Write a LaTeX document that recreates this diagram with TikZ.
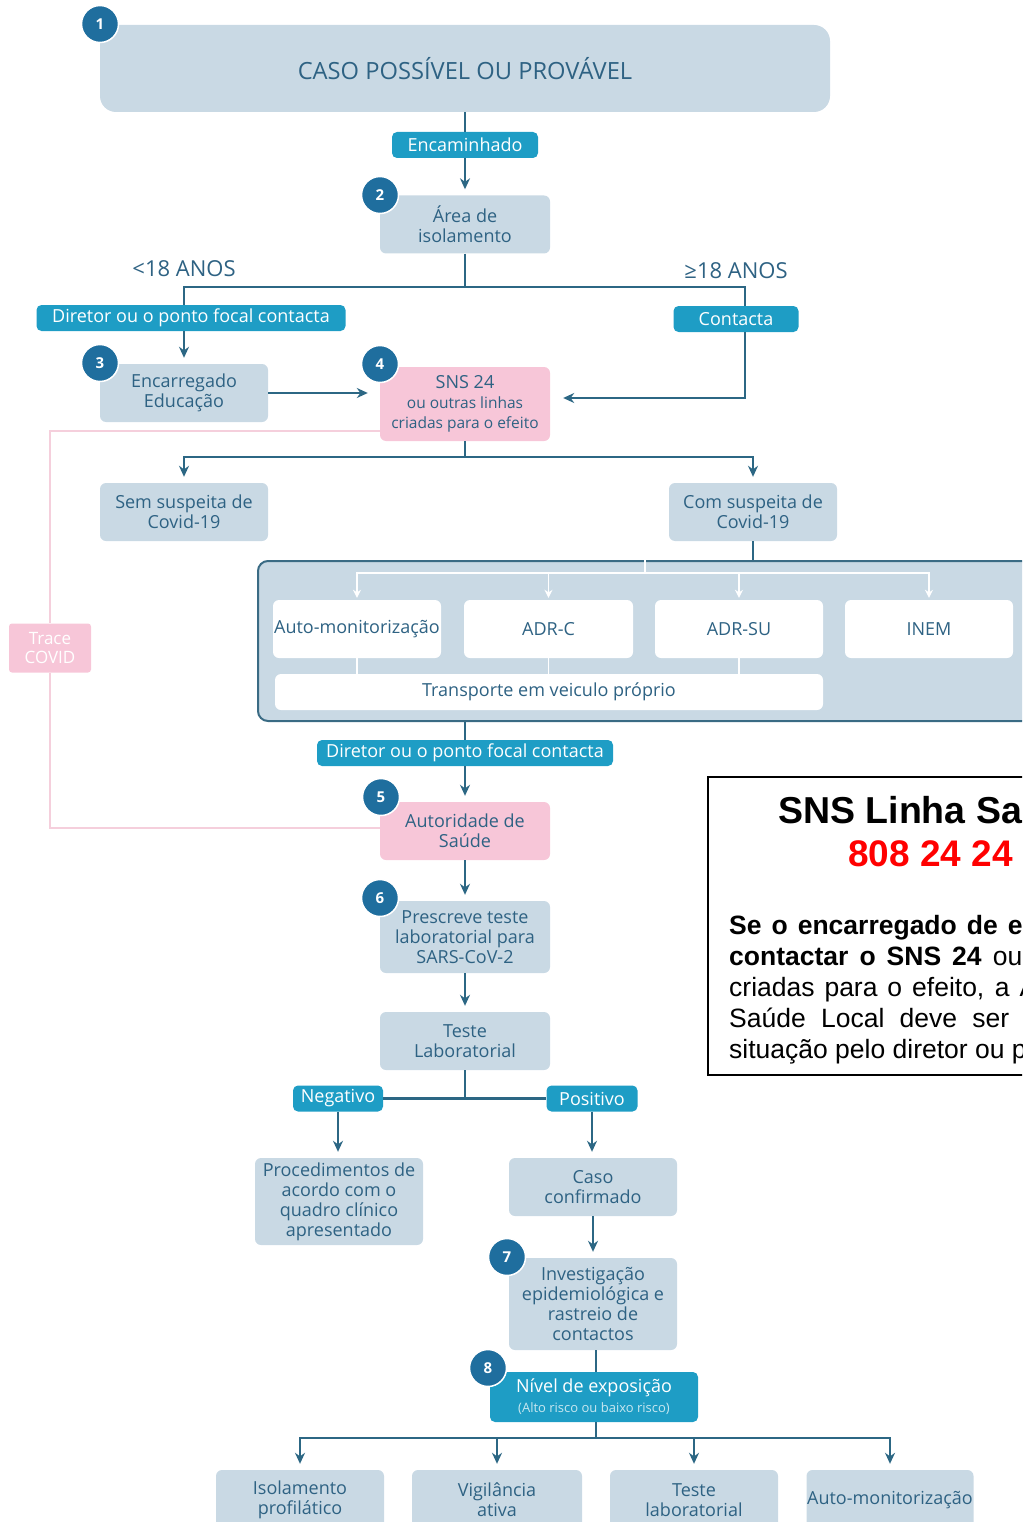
\documentclass[tikz,border=0pt]{standalone}
\usepackage{fontspec}
\setmainfont{Open Sans}
\newfontfamily\arialfont{Liberation Sans}
\usetikzlibrary{arrows.meta}
\definecolor{cxazul}{HTML}{C9D9E4}
\definecolor{cxrosa}{HTML}{F7C6D8}
\definecolor{txtazul}{HTML}{2E6283}
\definecolor{tagazul}{HTML}{1E9DC5}
\definecolor{numazul}{HTML}{1F6E9E}
\definecolor{linazul}{HTML}{2C6784}
\definecolor{linrosa}{HTML}{F5CFDC}
\definecolor{contorno}{HTML}{3A6B84}
\newcommand{\tamanho}[2]{\fontsize{#1}{#2}\selectfont}
\begin{document}
\begin{tikzpicture}[x=1pt,y=-1pt,
    bloco/.style={fill=cxazul, text=txtazul, rounded corners=6pt, align=center, inner sep=0pt,
      minimum width=170pt, minimum height=58pt, font=\tamanho{18}{20}},
    rosa/.style={bloco, fill=cxrosa},
    branco/.style={bloco, fill=white, minimum width=168pt},
    etiqueta/.style={fill=tagazul, text=white, rounded corners=5pt, inner sep=0pt,
      minimum height=26pt, font=\tamanho{18}{20}},
    numero/.style={circle, fill=numazul, draw=white, line width=1.5pt, text=white,
      minimum size=37pt, inner sep=0pt, font=\bfseries\tamanho{15}{15}},
    linha/.style={draw=linazul, line width=2.2pt},
    seta/.style={linha, -{Stealth[length=11pt,width=10pt]}, shorten >=6pt},
    linharosa/.style={draw=linrosa, line width=2pt},
    fiobranco/.style={draw=white, line width=1.6pt},
    setabranca/.style={fiobranco, -{Stealth[length=8pt,width=8pt]}, shorten >=2pt}]
  \useasboundingbox (0,0) rectangle (1022,1522);
  \clip (0,0) rectangle (1022,1522);

  % Caso inicial e isolamento
  \node[bloco, minimum width=730pt, minimum height=87pt, rounded corners=16pt,
    font=\tamanho{23.7}{26}] (caso) at (465,68.5) {\raisebox{-3pt}{CASO POSSÍVEL OU PROVÁVEL}};
  \node[etiqueta, minimum width=146pt] (encam) at (465,145) {Encaminhado};
  \node[bloco] (isol) at (465,224.5) {Área de\\isolamento};
  \draw[linha] (caso.south) -- (encam.north);
  \draw[seta] (encam.south) -- (isol.north);

  % Idade
  \node[text=txtazul, font=\tamanho{22}{24}] (menor) at (184,269) {<18 ANOS};
  \node[text=txtazul, font=\tamanho{22}{24}] (maior) at (736,271) {≥18 ANOS};
  \node[etiqueta, minimum width=309pt] (dir1) at (191,318) {Diretor ou o ponto focal contacta};
  \node[etiqueta, minimum width=125pt] (contacta) at (736,319) {Contacta};
  \node[bloco, minimum width=168pt] (enc) at (184,393) {Encarregado\\Educação};
  \node[rosa, minimum height=74pt] (sns) at (465,404)
    {\tamanho{18}{22}SNS 24\\\tamanho{15.5}{20}ou outras linhas\\\tamanho{15.5}{20}criadas para o efeito};
  \coordinate (bifA) at (465,287);
  \draw[linha] (isol.south) -- (bifA);
  \draw[linha] (bifA) -| (enc.north |- dir1.north);
  \draw[seta] (enc.north |- dir1.south) -- (enc.north);
  \draw[linha] (bifA) -| ([xshift=9pt]contacta.north);
  \draw[seta, shorten >=13pt] ([xshift=9pt]contacta.south) |- ([yshift=6pt]sns.east);
  \draw[seta, shorten >=12pt] (enc.east) -- (enc.east -| sns.west);

  % Trace COVID
  \node[fill=cxrosa, rounded corners=3pt, minimum width=82pt, minimum height=49pt,
    inner sep=0pt, text=white, align=center, font=\tamanho{17}{19}] (trace) at (50,648) {Trace\\COVID};
  \node[rosa] (aut) at (465,831) {Autoridade de\\Saúde};
  \draw[linharosa] ([yshift=-27pt]sns.west) -| (trace.north);
  \draw[linharosa] (trace.south) |- ([yshift=3pt]aut.west);

  % Suspeita
  \node[bloco, minimum width=168pt] (sem) at (184,512) {Sem suspeita de\\Covid-19};
  \node[bloco, minimum width=168pt] (com) at (753,512) {Com suspeita de\\Covid-19};
  \coordinate (bifB) at (465,457);
  \draw[linha] (sns.south) -- (bifB);
  \draw[seta] (bifB) -| (sem.north);
  \draw[seta] (bifB) -| (com.north);

  % Meios de encaminhamento
  \node[draw=contorno, line width=2pt, fill=cxazul, rounded corners=10pt,
    minimum width=790pt, minimum height=160pt, inner sep=0pt] (meios) at (653,641) {};
  \draw[linha] (com.south) -- (com.south |- meios.north);
  \node[branco] (auto1) at (357,629) {Auto-monitorização};
  \node[branco, minimum width=169pt] (adrc) at (548.5,629) {ADR-C};
  \node[branco] (adrsu) at (739,629) {ADR-SU};
  \node[branco] (inem) at (929,629) {INEM};
  \node[branco, minimum width=548pt, minimum height=36pt] (transp) at (549,692) {Transporte em veiculo próprio};
  \coordinate (bifC) at (645,573);
  \draw[fiobranco] (bifC |- meios.north) -- (bifC);
  \foreach \meio in {auto1,adrc,adrsu,inem}
    \draw[setabranca] (bifC) -| (\meio.north);
  \foreach \meio in {auto1,adrc,adrsu}
    \draw[fiobranco] (\meio.south) -- (\meio.south |- transp.north);

  % Autoridade de Saude e teste
  \node[etiqueta, minimum width=296pt] (dir2) at (465,753) {Diretor ou o ponto focal contacta};
  \node[bloco, minimum height=72pt] (presc) at (465,937) {Prescreve teste\\laboratorial para\\SARS-CoV-2};
  \node[bloco] (teste) at (465,1041) {Teste\\Laboratorial};
  \draw[linha] (dir2.north |- meios.south) -- (dir2.north);
  \draw[seta] (dir2.south) -- (aut.north);
  \draw[seta] (aut.south) -- (presc.north);
  \draw[seta] (presc.south) -- (teste.north);

  % Resultado
  \node[etiqueta, minimum width=90pt] (neg) at (338,1098.5) {Negativo};
  \node[etiqueta, minimum width=91pt] (pos) at (592,1098.5) {Positivo};
  \node[bloco, minimum width=168pt, minimum height=87pt] (proc) at (339,1201.5)
    {Procedimentos de\\acordo com o\\quadro clínico\\apresentado};
  \node[bloco, minimum width=168pt] (conf) at (593,1187) {Caso\\confirmado};
  \node[bloco, minimum width=168pt, minimum height=92pt] (inv) at (593,1304)
    {Investigação\\epidemiológica e\\rastreio de\\contactos};
  \coordinate (bifD) at (465,1098.5);
  \draw[linha] (teste.south) -- (bifD);
  \draw[linha] (neg.east) -- (pos.west);
  \draw[seta] (neg.south) -- (neg.south |- proc.north);
  \draw[seta] (pos.south) -- (pos.south |- conf.north);
  \draw[seta] (conf.south) -- (inv.north);

  % Nivel de exposicao
  \node[etiqueta, minimum width=208pt, minimum height=50pt, align=center] (nivel) at (594,1397)
    {Nível de exposição\\{\tamanho{13}{17}\color{white!75!tagazul}(Alto risco ou baixo risco)}};
  \node[bloco, minimum width=168pt, minimum height=60pt] (iso) at (300,1500) {Isolamento\\profilático};
  \node[bloco, minimum width=170pt, minimum height=60pt] (vig) at (497,1500) {Vigilância\\ativa};
  \node[bloco, minimum width=168pt, minimum height=60pt] (tlab) at (694,1500) {Teste\\laboratorial};
  \node[bloco, minimum width=167pt, minimum height=60pt] (auto2) at (890,1500) {Auto-monitorização};
  \coordinate (bifE) at (596,1438);
  \draw[linha] (inv.south -| bifE) -- (nivel.north -| bifE);
  \draw[linha] (nivel.south -| bifE) -- (bifE);
  \foreach \medida in {iso,vig,tlab,auto2}
    \draw[seta] (bifE) -| (\medida.north);

  % Numeros
  \node[numero] (n1) at (100,24) {1};
  \node[numero] (n2) at (380,195) {2};
  \node[numero] (n3) at (100,363) {3};
  \node[numero] (n4) at (380,364) {4};
  \node[numero] (n5) at (381,797) {5};
  \node[numero] (n6) at (380,898) {6};
  \node[numero] (n7) at (507,1257) {7};
  \node[numero] (n8) at (488,1368) {8};

  % Caixa SNS Linha Saude
  \draw[line width=1.5pt] (708,777) rectangle (1210,1075);
  \node[anchor=base west, inner sep=0pt, font=\arialfont\bfseries\tamanho{37.5}{40}] (titulo) at (778,823)
    {SNS Linha Saúde 24};
  \node[anchor=base west, inner sep=0pt, text=red, font=\arialfont\bfseries\tamanho{37}{40}] (telefone) at (848,866)
    {808 24 24 24};
  \node[anchor=north west, inner sep=0pt, text width=458pt, align=justify,
    font=\arialfont\tamanho{26.5}{31}] (aviso) at (729,915)
    {\textbf{Se o encarregado de educação não\linebreak contactar o SNS 24} ou outras linhas\linebreak
     criadas para o efeito, a Autoridade de\linebreak Saúde Local deve ser informada da\linebreak
     situação pelo diretor ou ponto focal.};
\end{tikzpicture}
\end{document}
